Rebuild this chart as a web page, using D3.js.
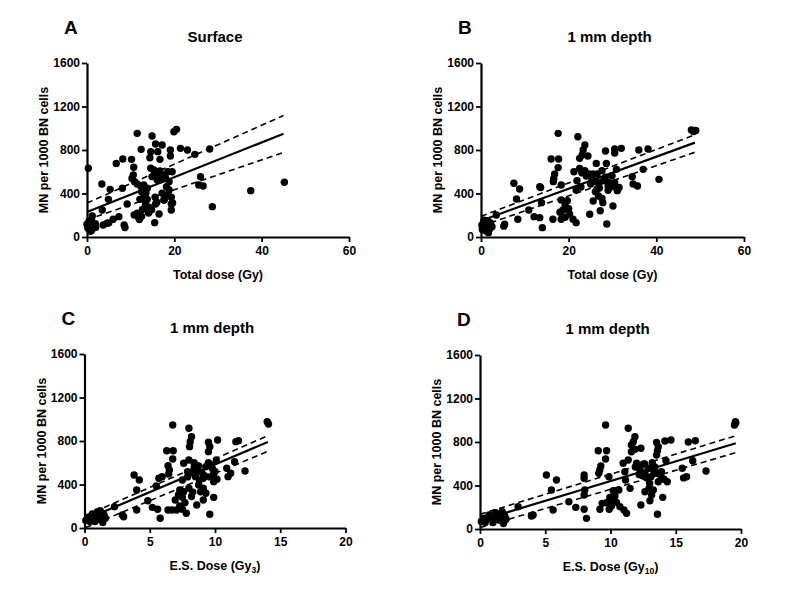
<!DOCTYPE html>
<html><head><meta charset="utf-8">
<script src="https://cdn.jsdelivr.net/npm/d3@7"></script>
<style>
html,body{margin:0;padding:0;background:#fff;}
svg{display:block;font-family:"Liberation Sans",Arial,sans-serif;font-weight:bold;}
</style></head>
<body>
<svg id="c" width="800" height="602"></svg>
<script>
// ---------------- DATA ----------------
const panelLetters = ["A","B","C","D"];
const panelTitles = ["Surface","1 mm depth","1 mm depth","1 mm depth"];
const yTicks = [0,400,800,1200,1600];
const xTicksTotal = [0,20,40,60];
const xTicksES = [0,5,10,15,20];
const yLabel = "MN per 1000 BN cells";
const xLabelTotal = "Total dose (Gy)";
const xLabelES = "E.S. Dose (Gy";
const esSubs = ["3","10"];

const pointsA = [[11.5,953],[14.9,929],[19.9,968],[20.5,990],[0.3,632],[6.7,677],[8.2,717],[10.2,714],[12.4,806],[14.6,785],[15.7,855],[17.2,846],[16.2,785],[19.1,800],[19.1,745],[21.4,815],[23,800],[24.7,760],[28.1,809],[16.7,714],[14.4,729],[10.7,641],[10.6,570],[10.3,539],[10.9,509],[14.6,632],[15.3,616],[16.7,607],[17.2,570],[18,540],[18.8,509],[14.9,555],[16.1,524],[19.5,600],[11.5,487],[13,478],[13.8,448],[18.2,463],[18.8,432],[12.5,417],[13,365],[12.1,346],[13.8,346],[13.4,300],[14.2,273],[12.7,254],[11.5,218],[10.8,202],[11.9,172],[15.6,365],[15.7,303],[17.6,340],[17.2,402],[19.3,365],[19.3,303],[19.3,248],[16.5,211],[15.5,132],[9.2,303],[8.1,448],[5.3,438],[3.4,487],[4.9,346],[3.5,248],[7.3,187],[6,163],[4.6,126],[3.7,110],[8.5,110],[8.7,88],[1.2,193],[1.1,147],[1.6,110],[0,117],[0.2,80],[1.1,64],[26,555],[25.6,478],[26.6,469],[28.7,279],[37.5,426],[45.2,503],[16.9,527],[16.2,580],[17.8,560],[18.5,600],[15.5,590],[12.3,470],[13.5,405],[14.1,221],[12.5,190],[12,160],[16,319],[17.7,343],[18.5,389],[19.6,313],[0.4,113],[0.8,52],[1.9,123],[0.5,150],[2,90],[5,130],[13.3,330],[14.8,250]];

const pointsB = [[17.6,953],[22.1,922],[48,984],[48.5,970],[49,980],[23.7,846],[23.3,800],[23.1,754],[28.4,791],[30.5,809],[30.5,772],[32,815],[36,800],[38.1,809],[16,717],[17.7,717],[17.6,638],[16.8,579],[16.6,539],[16.5,509],[18.3,478],[22.5,723],[24.4,745],[26.3,677],[28.6,677],[21.2,600],[22.5,631],[23.7,610],[24.6,579],[25.3,533],[25.9,509],[25,487],[27.6,610],[28.4,549],[29.4,500],[29.9,564],[30.9,622],[30.1,463],[31.1,426],[34.5,555],[34.7,487],[35.7,469],[37,622],[40.6,530],[21.9,518],[21.7,432],[26.1,417],[26.8,377],[27.6,355],[25.6,331],[27.8,316],[27.2,242],[30.1,285],[24.8,209],[28.7,120],[18.3,340],[19.7,334],[19.2,291],[20,261],[18.7,248],[18,227],[20.2,211],[19.2,181],[21,163],[21.7,132],[18.3,163],[16.4,163],[13.8,316],[13.4,463],[13.6,455],[14,86],[13.4,178],[12.1,187],[10.9,248],[8.4,163],[8.1,349],[7.5,494],[8.8,441],[5.4,117],[5.2,100],[3.5,202],[24,560],[26.5,580],[27,500],[28,520],[29,470],[25.5,580],[23,590],[22.8,460],[27,450],[30.5,500],[31.5,455],[29,430],[26.5,440],[0.3,70],[0.5,100],[0.8,130],[1,60],[1.2,90],[1.5,150],[1.8,110],[2,75],[2.2,130],[0.2,110],[1.4,50],[2.5,95],[0.7,155],[1.7,40],[1,120]];

const pointsC = [[6.76,947],[8,917],[14,978],[14.1,956],[8.2,840],[8.1,794],[8.05,748],[9.5,788],[9.6,748],[9.5,702],[10.2,809],[11.6,794],[11.8,803],[6.3,711],[6.8,711],[6.76,634],[6.4,573],[6.5,533],[6.45,497],[7.6,595],[8,625],[8.4,601],[8.75,570],[8.6,527],[9,509],[9.3,564],[9.5,601],[9.8,546],[10.1,625],[9.9,497],[10.15,448],[9.1,457],[8.5,472],[8.2,509],[7.9,518],[9.9,426],[11,472],[11.2,503],[10.9,549],[11.5,610],[12.3,524],[5.95,472],[5.7,457],[5.5,386],[7.5,441],[7.3,349],[7.6,334],[7.2,303],[7.5,282],[6.95,257],[7.7,233],[7.3,202],[6.7,166],[6.4,166],[7.5,172],[7.8,135],[7.06,166],[8,365],[8.75,395],[8.9,334],[9.1,365],[9.3,319],[9.1,257],[8.6,211],[9.9,282],[9.6,126],[3.8,487],[4.2,441],[4,349],[4,166],[4.85,251],[5.2,190],[5.6,172],[5.8,89],[3,104],[2.9,120],[2.3,196],[9.2,480],[8.8,440],[9.6,470],[10,520],[9.7,580],[8.4,560],[7.9,470],[8.3,330],[8.2,290],[0.1,70],[0.3,100],[0.5,90],[0.6,130],[0.8,60],[1,150],[1.1,110],[1.2,80],[1.3,140],[1.4,50],[1.5,120],[0.9,100],[1.2,160],[0.4,60],[1.6,90]];

const pointsD = [[9.62,956],[11.36,926],[19.57,986],[19.5,956],[19.6,975],[11.87,849],[11.75,803],[11.6,772],[13.53,797],[13.66,757],[13.6,720],[13.53,680],[14.17,809],[14.63,818],[15.96,800],[16.5,812],[9.06,720],[9.7,720],[9.62,644],[9.26,579],[9.18,543],[9.1,512],[9.88,481],[10.97,604],[11.36,635],[11.6,711],[11.87,733],[12.33,742],[12,604],[12.38,588],[12.25,543],[12.64,518],[12.5,487],[12.9,558],[13.2,610],[13.28,543],[13.53,512],[13.9,527],[13.87,481],[14.1,457],[14.35,435],[13.66,435],[13.1,481],[14.25,628],[11.1,527],[11.15,450],[11.5,374],[15.5,558],[15.83,481],[15.6,470],[16.3,628],[17.32,533],[12.64,343],[12.95,374],[13.15,313],[13.02,260],[12.33,221],[13.28,359],[14,291],[13.6,135],[10.21,352],[10.34,303],[10.64,359],[9.95,291],[10.21,260],[9.7,242],[10.46,245],[10.08,211],[10.72,205],[11.03,175],[11.23,144],[9.9,181],[9.19,181],[9.36,236],[7.98,497],[7.98,466],[8.03,359],[7.98,313],[7.98,181],[8.16,98],[7.34,199],[6.81,251],[5.86,450],[5.09,497],[5.47,359],[5.6,175],[3.94,120],[4.07,129],[2.92,205],[12.8,470],[12.2,500],[13.4,570],[12.6,600],[11.9,570],[13,420],[0.1,70],[0.3,100],[0.5,90],[0.7,130],[1,60],[1.2,150],[1.3,110],[1.5,80],[1.6,140],[1.8,50],[1.9,120],[1,100],[1.7,160],[0.4,60],[2,90]];

// regression line (x start/end) and fitted / 95% band values
const fitXA = [0,45],    fitA = [230,950], upperA = [312,1117], lowerA = [159,778];
const fitXB = [0,48.8],  fitB = [150,868], upperB = [190,940],  lowerB = [100,779];
const fitXC = [0.1,14.05], fitC = [80,791], upperC = [115,849], lowerC = [5,705];
const fitXD = [0,19.6],  fitD = [78,788],  upperD = [135,858],  lowerD = [13,702];

// ---------------- LAYOUT ----------------
const panels = [
  {pts:pointsA, fx:fitXA, fit:fitA, up:upperA, lo:lowerA, xmax:60, xt:xTicksTotal, x0:87, x1:349, yt:63, yb:237, sub:null},
  {pts:pointsB, fx:fitXB, fit:fitB, up:upperB, lo:lowerB, xmax:60, xt:xTicksTotal, x0:481, x1:744, yt:63, yb:237, sub:null},
  {pts:pointsC, fx:fitXC, fit:fitC, up:upperC, lo:lowerC, xmax:20, xt:xTicksES, x0:84.5, x1:345.5, yt:354, yb:528, sub:esSubs[0]},
  {pts:pointsD, fx:fitXD, fit:fitD, up:upperD, lo:lowerD, xmax:20, xt:xTicksES, x0:480, x1:741, yt:355, yb:529, sub:esSubs[1]}
];

const svg = d3.select("#c");

panels.forEach((p,i)=>{
  const x = d3.scaleLinear().domain([0,p.xmax]).range([p.x0,p.x1]);
  const y = d3.scaleLinear().domain([0,1600]).range([p.yb,p.yt]);
  const g = svg.append("g");

  // letter & title
  g.append("text").attr("x",p.x0-23).attr("y",p.yt-29).attr("font-size",19).text(panelLetters[i]);
  g.append("text").attr("x",(p.x0+p.x1)/2-3).attr("y",p.yt-21).attr("text-anchor","middle").attr("font-size",15).text(panelTitles[i]);

  // axes
  const ya = g.append("g").attr("transform",`translate(${p.x0},0)`)
    .call(d3.axisLeft(y).tickValues(yTicks).tickFormat(d3.format("d")).tickSize(5).tickSizeOuter(0).tickPadding(2));
  const xa = g.append("g").attr("transform",`translate(0,${p.yb})`)
    .call(d3.axisBottom(x).tickValues(p.xt).tickFormat(d3.format("d")).tickSize(5).tickSizeOuter(0).tickPadding(4));
  [ya,xa].forEach(a=>{
    a.select(".domain").attr("stroke","#000").attr("stroke-width",2.2);
    a.selectAll(".tick line").attr("stroke","#000").attr("stroke-width",1.8);
    a.selectAll(".tick text").attr("font-size",12).attr("font-family","Liberation Sans, Arial, sans-serif").attr("font-weight","bold").attr("fill","#000");
  });

  // axis labels
  g.append("text").attr("transform",`translate(${p.x0-39},${(p.yt+p.yb)/2}) rotate(-90)`)
    .attr("text-anchor","middle").attr("font-size",12.5).text(yLabel);
  const xl = g.append("text").attr("x",(p.x0+p.x1)/2).attr("y",p.yb+42).attr("text-anchor","middle").attr("font-size",12.5);
  if(p.sub===null){ xl.text(xLabelTotal); }
  else {
    xl.append("tspan").text(xLabelES);
    xl.append("tspan").attr("font-size",8.5).attr("dy",3).text(p.sub);
    xl.append("tspan").attr("dy",-3).text(")");
  }

  // fit lines
  const ln = d3.line().x(d=>x(d[0])).y(d=>y(d[1]));
  const seg = arr => [[p.fx[0],arr[0]],[p.fx[1],arr[1]]];
  g.append("path").attr("d",ln(seg(p.up))).attr("fill","none").attr("stroke","#000").attr("stroke-width",1.6).attr("stroke-dasharray","6,4");
  g.append("path").attr("d",ln(seg(p.lo))).attr("fill","none").attr("stroke","#000").attr("stroke-width",1.6).attr("stroke-dasharray","6,4");

  // points
  g.append("g").selectAll("circle").data(p.pts).join("circle")
    .attr("cx",d=>x(d[0])).attr("cy",d=>y(d[1])).attr("r",3.7).attr("fill","#000");

  g.append("path").attr("d",ln(seg(p.fit))).attr("fill","none").attr("stroke","#000").attr("stroke-width",2.2);
});
</script>
</body></html>
